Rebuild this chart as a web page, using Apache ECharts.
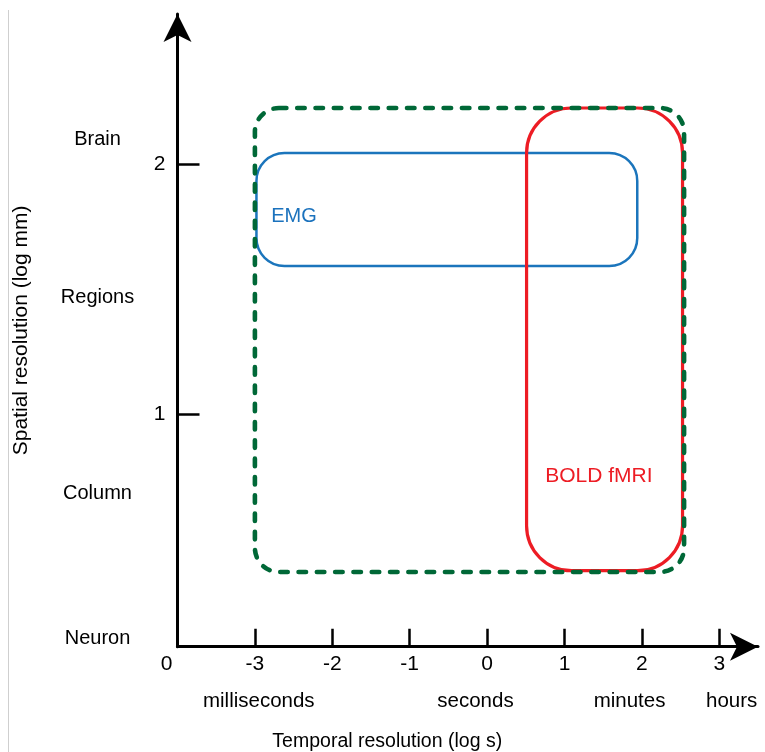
<!DOCTYPE html>
<html>
<head>
<meta charset="utf-8">
<script src="https://cdn.jsdelivr.net/npm/echarts@6/dist/echarts.min.js"></script>
<style>
html,body{margin:0;padding:0;background:#fff;}
#chart{width:765px;height:752px;}
</style>
</head>
<body>
<div id="chart"></div>
<script>
// ---- data ----
const timeTicks = [-3, -2, -1, 0, 1, 2, 3];
const originLabelAt = -4;
const spaceTicks = [1, 2];
const timeUnitNames = ['milliseconds', 'seconds', 'minutes', 'hours'];
const timeUnitAt = [-2.95, -0.15, 1.84, 3.16];
const spaceLevelNames = ['Brain', 'Regions', 'Column', 'Neuron'];
const spaceLevelAt = [2.1, 1.464, 0.68, 0.1];

// technique extents: [time min, time max] (log s), [space min, space max] (log mm)
const allTime = [-3.0, 2.545];
const allSpace = [0.368, 2.224];
const emgTime = [-2.98, 1.94];
const emgSpace = [1.592, 2.044];
const boldTime = [0.51, 2.525];
const boldSpace = [0.373, 2.224];

const techniqueNames = ['EMG', 'BOLD fMRI'];
const techniqueLabelAt = [[-2.79, 1.788], [0.75, 0.752]];

const xMin = -4, xMax = 3.5;
const yMin = 0.069, yMax = 2.6;

const FONT = 'Liberation Sans';

function boxSeries(name, t, s, color, width, r, dash, z) {
  return {
    type: 'custom',
    name: name,
    z: z,
    silent: true,
    clip: false,
    data: [[t[0], t[1], s[0], s[1]]],
    renderItem: function (params, api) {
      const p0 = api.coord([api.value(0), api.value(3)]);
      const p1 = api.coord([api.value(1), api.value(2)]);
      return {
        type: 'rect',
        shape: { x: p0[0], y: p0[1], width: p1[0] - p0[0], height: p1[1] - p0[1], r: r },
        style: {
          fill: 'none', stroke: color, lineWidth: width,
          lineDash: dash || null, lineCap: dash ? 'round' : 'butt'
        }
      };
    }
  };
}

const labelColors = ['#1b72bd', '#ed1c24'];
const labelSizes = [20, 21];

const chart = echarts.init(document.getElementById('chart'), null, { renderer: 'canvas' });
chart.setOption({
  animation: false,
  backgroundColor: '#fff',
  grid: { left: 177.5, right: 7, top: 14, bottom: 105.3, containLabel: false, outerBoundsMode: 'none' },
  graphic: [{
    type: 'line', shape: { x1: 8.5, y1: 10, x2: 8.5, y2: 752 },
    style: { stroke: '#cfcfcf', lineWidth: 1 }, silent: true
  }],
  xAxis: [{
    type: 'value', min: xMin, max: xMax, position: 'bottom',
    splitLine: { show: false },
    axisLine: { onZero: false, lineStyle: { color: '#000', width: 3 }, symbol: ['none', 'arrow'], symbolSize: [21, 28] },
    axisTick: { show: true, inside: true, length: 18, lineStyle: { color: '#000', width: 2.5 }, customValues: timeTicks },
    axisLabel: {
      color: '#000', fontFamily: FONT, fontSize: 21, margin: 7,
      customValues: [originLabelAt].concat(timeTicks),
      formatter: function (v) { return v === originLabelAt ? '{o|0}' : String(v); },
      rich: { o: { fontFamily: FONT, fontSize: 21, color: '#000', padding: [0, 22, 0, 0] } }
    },
    name: 'Temporal resolution (log s)', nameLocation: 'middle', nameGap: 85,
    nameTextStyle: { color: '#000', fontFamily: FONT, fontSize: 19.5, padding: [0, 161, 0, 0] }
  }, {
    type: 'value', min: xMin, max: xMax, position: 'bottom', offset: 36,
    splitLine: { show: false }, axisLine: { show: false, onZero: false }, axisTick: { show: false },
    axisLabel: {
      color: '#000', fontFamily: FONT, fontSize: 20.5, margin: 8,
      customValues: timeUnitAt,
      formatter: function (v) { return timeUnitNames[timeUnitAt.indexOf(v)] || ''; }
    }
  }],
  yAxis: [{
    type: 'value', min: yMin, max: yMax, position: 'left',
    splitLine: { show: false },
    axisLine: { onZero: false, lineStyle: { color: '#000', width: 3 }, symbol: ['none', 'arrow'], symbolSize: [21, 28] },
    axisTick: { show: true, inside: true, length: 22, lineStyle: { color: '#000', width: 2.5 }, customValues: spaceTicks },
    axisLabel: { color: '#000', fontFamily: FONT, fontSize: 21, margin: 12, customValues: spaceTicks },
    name: 'Spatial resolution (log mm)', nameLocation: 'middle', nameGap: 146, nameRotate: 90,
    nameTextStyle: { color: '#000', fontFamily: FONT, fontSize: 21, padding: [0, 0, 0, 0] }
  }, {
    type: 'value', min: yMin, max: yMax, position: 'left', offset: 72,
    splitLine: { show: false }, axisLine: { show: false, onZero: false }, axisTick: { show: false },
    axisLabel: {
      color: '#000', fontFamily: FONT, fontSize: 20, margin: 8, align: 'center',
      customValues: spaceLevelAt,
      formatter: function (v) { return spaceLevelNames[spaceLevelAt.indexOf(v)] || ''; }
    }
  }],
  series: [
    boxSeries('EMG', emgTime, emgSpace, '#1b75bc', 2.5, 28, null, 2),
    boxSeries('BOLD fMRI', boldTime, boldSpace, '#ed1c24', 3.2, 45, null, 3),
    boxSeries('All', allTime, allSpace, '#006837', 4.6, 24, [7.5, 10.8], 4),
    {
      type: 'scatter', symbolSize: 0, silent: true, z: 5,
      itemStyle: { opacity: 1 },
      data: techniqueLabelAt.map(function (p, i) {
        return { value: p, name: techniqueNames[i], label: { color: labelColors[i], fontSize: labelSizes[i] } };
      }),
      label: {
        show: true, position: 'right', distance: 0, fontFamily: FONT, opacity: 1,
        formatter: function (p) { return p.name; }
      }
    }
  ]
});
</script>
</body>
</html>
